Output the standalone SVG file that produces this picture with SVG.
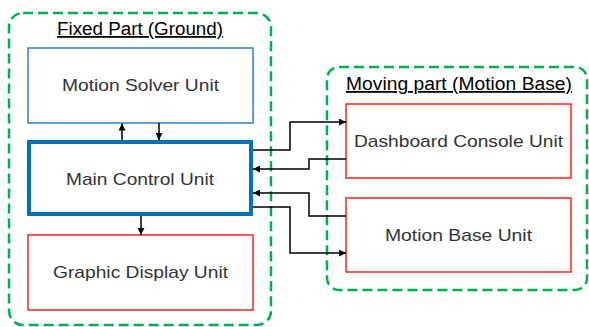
<svg xmlns="http://www.w3.org/2000/svg" width="589" height="327" viewBox="0 0 589 327">
<style>
.grp{fill:none;stroke:#00B050;stroke-width:2.5;stroke-dasharray:10 5}
.title{font-family:"Liberation Sans",Arial,sans-serif;font-size:18px;fill:#000;text-decoration:underline}
.lbl{font-family:"Liberation Sans",Arial,sans-serif;font-size:17px;fill:#333;text-anchor:middle}
.blue{fill:#fff;stroke:#2A7FCF;stroke-width:1.5}
.bluethick{fill:#fff;stroke:#0070C0;stroke-width:4}
.red{fill:#fff;stroke:#F22;stroke-width:1.5}
.conn{fill:none;stroke:#000;stroke-width:1.5}
</style>
<defs>
<marker id="ah" viewBox="0 0 10 10" refX="10" refY="5" markerWidth="7" markerHeight="7" markerUnits="userSpaceOnUse" orient="auto">
<path d="M0,0 L10,5 L0,10 z" fill="#000"/>
</marker>
</defs>
<rect width="589" height="327" fill="#fff"/>
<g id="fixed-part">
<rect class="grp" x="9" y="13" width="262" height="312" rx="14"/>
<text class="title" x="57" y="35" textLength="166" lengthAdjust="spacingAndGlyphs">Fixed Part (Ground)</text>
</g>
<g id="moving-part">
<rect class="grp" x="327" y="67" width="260" height="223" rx="12"/>
<text class="title" x="346" y="90" textLength="226" lengthAdjust="spacingAndGlyphs">Moving part (Motion Base)</text>
</g>
<g id="motion-solver-unit">
<rect class="blue" x="28" y="48" width="225" height="75"/>
<text class="lbl" x="140.5" y="91" textLength="157" lengthAdjust="spacingAndGlyphs">Motion Solver Unit</text>
</g>
<g id="main-control-unit">
<rect class="bluethick" x="29" y="142" width="222" height="72"/>
<text class="lbl" x="140" y="185" textLength="148" lengthAdjust="spacingAndGlyphs">Main Control Unit</text>
</g>
<g id="graphic-display-unit">
<rect class="red" x="28" y="235" width="225" height="75"/>
<text class="lbl" x="140.5" y="278" textLength="175" lengthAdjust="spacingAndGlyphs">Graphic Display Unit</text>
</g>
<g id="dashboard-console-unit">
<rect class="red" x="346" y="104" width="225" height="74"/>
<text class="lbl" x="458.5" y="147" textLength="209" lengthAdjust="spacingAndGlyphs">Dashboard Console Unit</text>
</g>
<g id="motion-base-unit">
<rect class="red" x="346" y="198" width="225" height="74"/>
<text class="lbl" x="458.5" y="241" textLength="147" lengthAdjust="spacingAndGlyphs">Motion Base Unit</text>
</g>
<g id="connectors">
<path class="conn" d="M122,140 V123.5" marker-end="url(#ah)"/>
<path class="conn" d="M159,123 V140" marker-end="url(#ah)"/>
<path class="conn" d="M141,216 V235" marker-end="url(#ah)"/>
<path class="conn" d="M253,150 H290 V122 H346" marker-end="url(#ah)"/>
<path class="conn" d="M346,159 H309 V169 H253" marker-end="url(#ah)"/>
<path class="conn" d="M346,216 H309 V193 H253" marker-end="url(#ah)"/>
<path class="conn" d="M253,207 H290 V253 H346" marker-end="url(#ah)"/>
</g>
</svg>
